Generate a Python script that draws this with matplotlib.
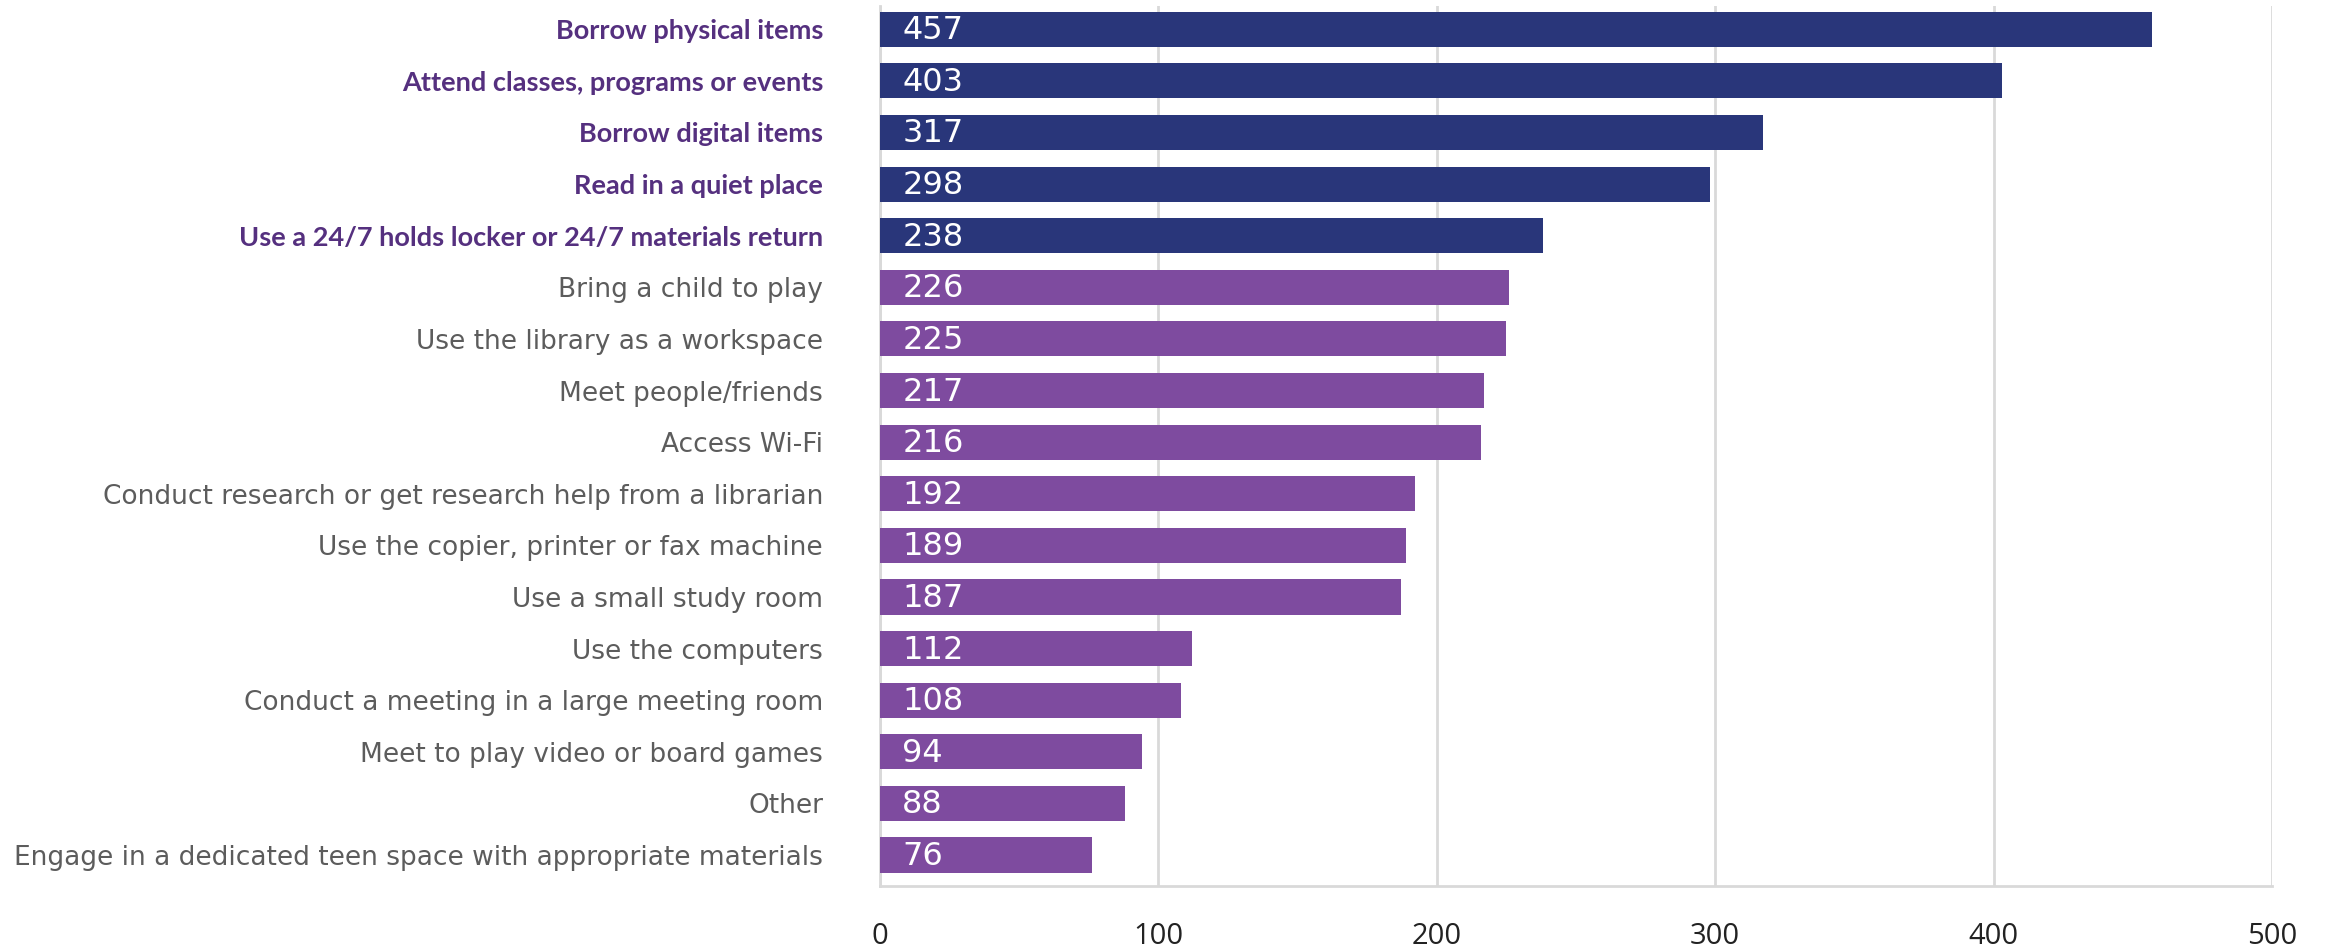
import matplotlib
matplotlib.use('Agg')
import matplotlib.pyplot as plt

categories = [
    "Borrow physical items",
    "Attend classes, programs or events",
    "Borrow digital items",
    "Read in a quiet place",
    "Use a 24/7 holds locker or 24/7 materials return",
    "Bring a child to play",
    "Use the library as a workspace",
    "Meet people/friends",
    "Access Wi-Fi",
    "Conduct research or get research help from a librarian",
    "Use the copier, printer or fax machine",
    "Use a small study room",
    "Use the computers",
    "Conduct a meeting in a large meeting room",
    "Meet to play video or board games",
    "Other",
    "Engage in a dedicated teen space with appropriate materials",
]
values = [457, 403, 317, 298, 238, 226, 225, 217, 216, 192, 189, 187, 112, 108, 94, 88, 76]
n_top = 5  # first five are highlighted
xticks = [0, 100, 200, 300, 400, 500]

navy = '#29367a'
purple = '#7e4b9f'
label_purple = '#55307f'
label_gray = '#5c5c5c'
grid_gray = '#d9d9d9'

fig = plt.figure(figsize=(23.3, 9.47), dpi=100)
ax = fig.add_axes([880 / 2330, 1 - 886 / 947, (2272 - 880) / 2330, (886 - 6) / 947])

ypos = list(range(len(categories)))
colors = [navy if i < n_top else purple for i in ypos]
ax.barh(ypos, values, height=0.68, color=colors, zorder=3)

for y, v in zip(ypos, values):
    ax.text(8, y + 0.03, str(v), color='white', fontsize=23, family='DejaVu Sans',
            va='center', ha='left', zorder=4)

ax.set_xlim(0, 500)
ax.set_ylim(len(categories) - 0.4, -0.45)
ax.set_xticks(xticks)
ax.set_xticklabels([str(t) for t in xticks], fontsize=21, family='Open Sans', color='#222222')
ax.tick_params(axis='x', length=0, pad=26)
ax.tick_params(axis='y', length=0, pad=41)
ax.set_yticks(ypos)
ax.set_yticklabels(categories, fontsize=19, family='DejaVu Sans')
for i, lbl in enumerate(ax.get_yticklabels()):
    if i < n_top:
        lbl.set_color(label_purple)
        lbl.set_family('Lato')
        lbl.set_fontweight('bold')
        lbl.set_fontsize(19.5)
    else:
        lbl.set_color(label_gray)

ax.grid(axis='x', color=grid_gray, linewidth=2, zorder=0)
for s in ['top', 'right']:
    ax.spines[s].set_visible(False)
ax.spines['left'].set_color(grid_gray)
ax.spines['left'].set_linewidth(2)
ax.spines['bottom'].set_color(grid_gray)
ax.spines['bottom'].set_linewidth(2)

fig.savefig('out.png', dpi=100, facecolor='white')
